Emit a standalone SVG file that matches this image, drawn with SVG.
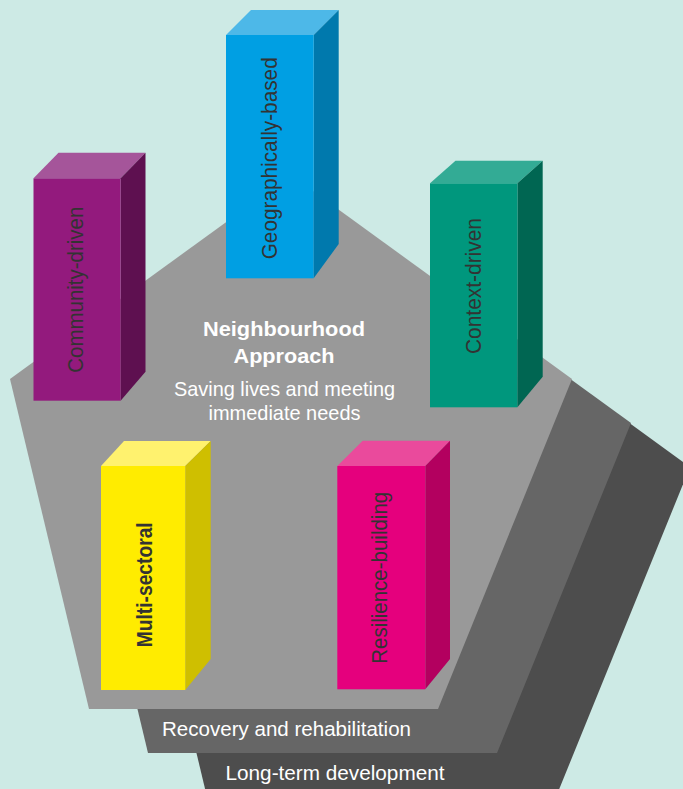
<svg xmlns="http://www.w3.org/2000/svg" width="683" height="789" viewBox="0 0 683 789">
  <style>
    .lbl { font-family: "Liberation Sans", Arial, sans-serif; font-size: 21.5px; fill: #333333; text-anchor: middle; }
    .wt { font-family: "Liberation Sans", Arial, sans-serif; fill: #ffffff; }
    .ctr { text-anchor: middle; }
  </style>
  <rect x="0" y="0" width="683" height="789" fill="#cdeae5"/>

  <g id="layers">
    <polygon id="layer-long-term" points="409,263 690,467 556,797 207,797 128,467" fill="#4d4d4d"/>
    <polygon id="layer-recovery" points="350,219 631,423 497,753 148,753 69,423" fill="#666666"/>
    <polygon id="layer-relief" points="291,175 572,379 438,709 89,709 10,379" fill="#999999"/>
  </g>

  <g id="layer-labels">
    <text class="wt" x="162" y="736" font-size="20.5" textLength="249" lengthAdjust="spacingAndGlyphs">Recovery and rehabilitation</text>
    <text class="wt" x="225.5" y="780" font-size="20.5" textLength="219" lengthAdjust="spacingAndGlyphs">Long-term development</text>
  </g>

  <g id="center-text">
    <text class="wt ctr" x="284" y="335.5" font-size="20" font-weight="bold" textLength="162" lengthAdjust="spacingAndGlyphs">Neighbourhood</text>
    <text class="wt ctr" x="284" y="363" font-size="20" font-weight="bold" textLength="101" lengthAdjust="spacingAndGlyphs">Approach</text>
    <text class="wt ctr" x="284.5" y="396.3" font-size="19.8" textLength="221" lengthAdjust="spacingAndGlyphs">Saving lives and meeting</text>
    <text class="wt ctr" x="284.5" y="419.5" font-size="19.8" textLength="152" lengthAdjust="spacingAndGlyphs">immediate needs</text>
  </g>

  <g id="connectors"></g>

  <g id="pillar-community">
    <polygon points="33.5,178.3 58.5,152.7 145.5,152.7 120.6,178.3" fill="#a5559a"/>
    <polygon points="120.6,178.3 145.5,152.7 145.5,371.7 120.6,400.7" fill="#5e1050"/>
    <rect x="33.5" y="178.3" width="87.1" height="222.4" fill="#931a7d"/>
    <text class="lbl" transform="translate(83,289.7) rotate(-90)" textLength="166" lengthAdjust="spacingAndGlyphs">Community-driven</text>
  </g>

  <g id="pillar-geographic">
    <polygon points="226,35 251,10 338.7,10 313.7,35" fill="#4db8e8"/>
    <polygon points="313.7,35 338.7,10 338.7,244 313.7,278.3" fill="#0079ad"/>
    <rect x="226" y="35" width="87.7" height="243.3" fill="#009fe3"/>
    <text class="lbl" transform="translate(277,158.3) rotate(-90)" textLength="202" lengthAdjust="spacingAndGlyphs">Geographically-based</text>
  </g>

  <g id="pillar-context">
    <polygon points="430,183.3 455.5,160.7 542.7,160.7 517.4,183.3" fill="#33ab95"/>
    <polygon points="517.4,183.3 542.7,160.7 542.7,376.7 517.4,407.3" fill="#006652"/>
    <rect x="430" y="183.3" width="87.4" height="224" fill="#00977d"/>
    <text class="lbl" transform="translate(481.3,286) rotate(-90)" textLength="136" lengthAdjust="spacingAndGlyphs">Context-driven</text>
  </g>

  <g id="pillar-multisectoral">
    <polygon points="101,466 124,441 210.7,441 185.3,466" fill="#fff26e"/>
    <polygon points="185.3,466 210.7,441 210.7,659 185.3,690" fill="#cfbf00"/>
    <rect x="101" y="466" width="84.3" height="224" fill="#ffec00"/>
    <text class="lbl" transform="translate(151.5,584.8) rotate(-90)" font-weight="bold" textLength="125" lengthAdjust="spacingAndGlyphs">Multi-sectoral</text>
  </g>

  <g id="pillar-resilience">
    <polygon points="337.3,466 362.7,440.7 450,440.7 425.3,466" fill="#ea4a9c"/>
    <polygon points="425.3,466 450,440.7 450,659 425.3,689.3" fill="#b3005f"/>
    <rect x="337.3" y="466" width="88" height="223.3" fill="#e5007d"/>
    <text class="lbl" transform="translate(387,577.8) rotate(-90)" textLength="172" lengthAdjust="spacingAndGlyphs">Resilience-building</text>
  </g>
</svg>
